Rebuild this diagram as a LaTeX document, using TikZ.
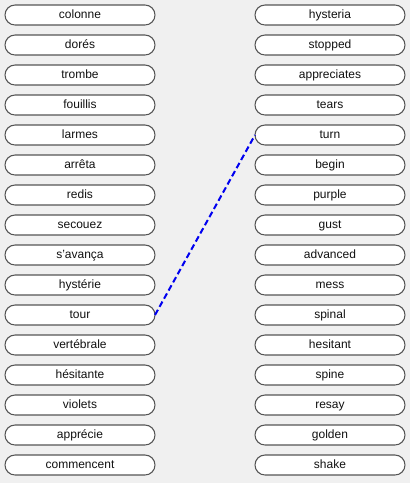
\documentclass[tikz,border=0pt]{standalone}
\usepackage{fontspec}
\setmainfont{Liberation Sans}
\usepackage{xcolor}
\usepackage{tikz}
\usetikzlibrary{positioning}
\definecolor{ink}{HTML}{111111}
\definecolor{canvas}{HTML}{F0F0F0}
\definecolor{edgegray}{HTML}{555555}
\definecolor{linkblue}{HTML}{0000F0}

\begin{document}
\begin{tikzpicture}[x=0.75pt,y=-0.75pt,node distance=7.5pt and 75pt]
    \tikzset{
      word/.style={rounded corners=7.5pt,draw=edgegray,fill=white,line width=0.8pt,minimum width=112.5pt,minimum height=15pt,inner sep=0pt,outer sep=0pt,text height=6.8pt,text depth=2pt,align=center,font=\fontsize{9pt}{10pt}\selectfont,text=ink},
      link/.style={draw=linkblue,line width=1.5pt,dash pattern=on 4.5pt off 2.5pt}
    }
    \fill[canvas] (0,0) rectangle (410,483);
    \useasboundingbox (0,0) rectangle (410,483);
    % french words
    \node[word] (colonne) at (80,15) {colonne};
    \node[word,below=of colonne] (dores) {dorés};
    \node[word,below=of dores] (trombe) {trombe};
    \node[word,below=of trombe] (fouillis) {fouillis};
    \node[word,below=of fouillis] (larmes) {larmes};
    \node[word,below=of larmes] (arreta) {arrêta};
    \node[word,below=of arreta] (redis) {redis};
    \node[word,below=of redis] (secouez) {secouez};
    \node[word,below=of secouez] (savanca) {s'avança};
    \node[word,below=of savanca] (hysterie) {hystérie};
    \node[word,below=of hysterie] (tour) {tour};
    \node[word,below=of tour] (vertebrale) {vertébrale};
    \node[word,below=of vertebrale] (hesitante) {hésitante};
    \node[word,below=of hesitante] (violets) {violets};
    \node[word,below=of violets] (apprecie) {apprécie};
    \node[word,below=of apprecie] (commencent) {commencent};
    % english words
    \node[word,right=of colonne] (hysteria) {hysteria};
    \node[word,below=of hysteria] (stopped) {stopped};
    \node[word,below=of stopped] (appreciates) {appreciates};
    \node[word,below=of appreciates] (tears) {tears};
    \node[word,below=of tears] (turn) {turn};
    \node[word,below=of turn] (begin) {begin};
    \node[word,below=of begin] (purple) {purple};
    \node[word,below=of purple] (gust) {gust};
    \node[word,below=of gust] (advanced) {advanced};
    \node[word,below=of advanced] (mess) {mess};
    \node[word,below=of mess] (spinal) {spinal};
    \node[word,below=of spinal] (hesitant) {hesitant};
    \node[word,below=of hesitant] (spine) {spine};
    \node[word,below=of spine] (resay) {resay};
    \node[word,below=of resay] (golden) {golden};
    \node[word,below=of golden] (shake) {shake};
    \draw[link] (tour.east) -- (turn.west);
  \end{tikzpicture}
\end{document}
